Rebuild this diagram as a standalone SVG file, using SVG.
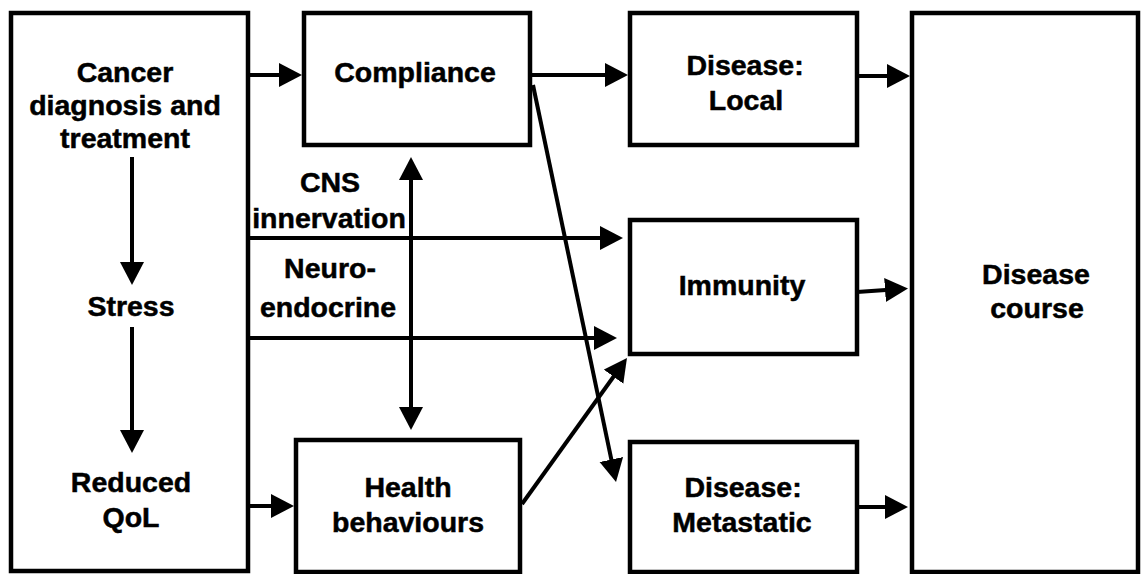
<svg xmlns="http://www.w3.org/2000/svg" width="1143" height="574" viewBox="0 0 1143 574">
  <style>
    .box { fill: #fff; stroke: #000; stroke-width: 4.5; }
    .lbl { font-family: "Liberation Sans", Arial, Helvetica, sans-serif; font-weight: bold; font-size: 28.5px; fill: #000; stroke: #000; stroke-width: 0.5; text-anchor: middle; }
    .edge { fill: none; stroke: #000; stroke-width: 4; }
    .arr { marker-end: url(#head); }
    .both { marker-start: url(#head); marker-end: url(#head); }
  </style>
  <defs>
    <marker id="head" markerUnits="userSpaceOnUse" markerWidth="26" markerHeight="26" refX="15" refY="12" orient="auto-start-reverse">
      <path d="M0,0 L23,12 L0,24 Z" fill="#000"/>
    </marker>
  </defs>
  <rect width="1143" height="574" fill="#fff"/>

  <!-- Nodes -->
  <g id="cancer">
    <rect class="box" x="11" y="13" width="237" height="558"/>
    <text class="lbl" x="125" y="82">Cancer</text>
    <text class="lbl" x="125" y="115">diagnosis and</text>
    <text class="lbl" x="125" y="148">treatment</text>
    <text class="lbl" x="131" y="316">Stress</text>
    <text class="lbl" x="131" y="492">Reduced</text>
    <text class="lbl" x="131" y="527">QoL</text>
  </g>
  <g id="compliance">
    <rect class="box" x="304" y="13" width="226" height="132"/>
    <text class="lbl" x="415" y="82">Compliance</text>
  </g>
  <g id="health">
    <rect class="box" x="296" y="440" width="224" height="132"/>
    <text class="lbl" x="408" y="497">Health</text>
    <text class="lbl" x="408" y="532">behaviours</text>
  </g>
  <g id="local">
    <rect class="box" x="630" y="13" width="227" height="132"/>
    <text class="lbl" x="745" y="75">Disease:</text>
    <text class="lbl" x="746" y="110">Local</text>
  </g>
  <g id="immunity">
    <rect class="box" x="630" y="220" width="227" height="134"/>
    <text class="lbl" x="742" y="295">Immunity</text>
  </g>
  <g id="metastatic">
    <rect class="box" x="630" y="442" width="227" height="130"/>
    <text class="lbl" x="743" y="497">Disease:</text>
    <text class="lbl" x="742" y="532">Metastatic</text>
  </g>
  <g id="course">
    <rect class="box" x="912" y="13" width="226" height="559"/>
    <text class="lbl" x="1036" y="284">Disease</text>
    <text class="lbl" x="1037" y="318">course</text>
  </g>

  <!-- Connectors -->
  <g id="connectors">
    <line class="edge arr" x1="132" y1="157" x2="132" y2="277"/>
    <line class="edge arr" x1="132" y1="327" x2="132" y2="445"/>
    <line class="edge arr" x1="248" y1="75" x2="294" y2="75"/>
    <line class="edge arr" x1="248" y1="506" x2="286" y2="506"/>
    <line class="edge arr" x1="530" y1="75" x2="620" y2="75"/>
    <line class="edge arr" x1="857" y1="76" x2="902" y2="76"/>
    <line class="edge arr" x1="857" y1="292" x2="900" y2="289"/>
    <line class="edge arr" x1="857" y1="507" x2="900" y2="507"/>
    <line class="edge arr" x1="248" y1="238" x2="615" y2="238"/>
    <line class="edge arr" x1="248" y1="338" x2="609" y2="338"/>
    <line class="edge both" x1="411" y1="165" x2="411" y2="422"/>
    <line class="edge arr" x1="533" y1="85" x2="614.4" y2="474.2"/>
    <line class="edge arr" x1="522" y1="504" x2="622.3" y2="364.5"/>
    <text class="lbl" x="330" y="192">CNS</text>
    <text class="lbl" x="329" y="228">innervation</text>
    <text class="lbl" x="330" y="278">Neuro-</text>
    <text class="lbl" x="328" y="317">endocrine</text>
  </g>
</svg>
